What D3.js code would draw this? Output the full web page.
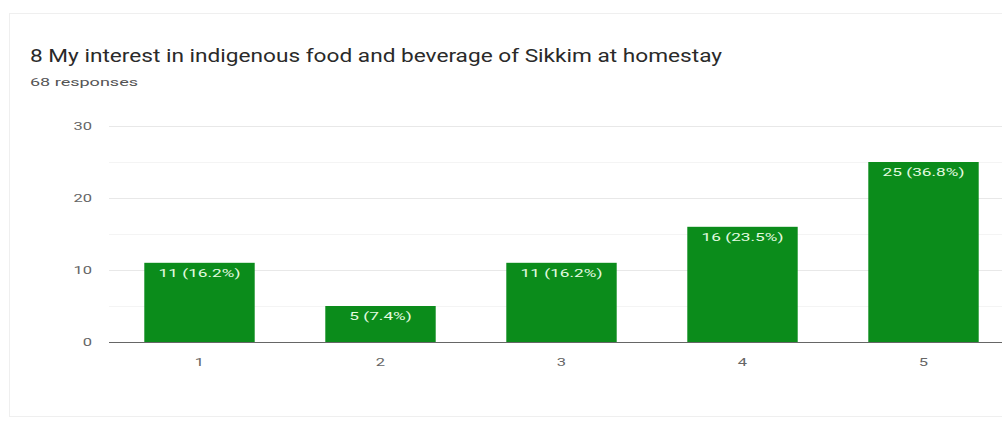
<!DOCTYPE html>
<html>
<head>
<meta charset="utf-8">
<script src="https://cdn.jsdelivr.net/npm/d3@7"></script>
<style>
  html, body { margin: 0; padding: 0; background: #fff; }
  svg { display: block; }
</style>
</head>
<body>
<svg id="chart" width="1002" height="423"></svg>
<script>
// Survey question 8: rating counts for scale 1..5
const titleText = "8 My interest in indigenous food and beverage of Sikkim at homestay";
const subtitleText = "68 responses";
const categories = ["1", "2", "3", "4", "5"];
const counts = [11, 5, 11, 16, 25];
const labels = ["11 (16.2%)", "5 (7.4%)", "11 (16.2%)", "16 (23.5%)", "25 (36.8%)"];
const yTicks = [0, 10, 20, 30];
const yGrid = [5, 15, 25];

const svg = d3.select("#chart");
const W = 1002, H = 423;
const FONT = "Roboto, Arial, sans-serif";
const WIDEN = 1.5;

// stretch text horizontally to the wide lettering of the form
function widen(sel, k) {
  sel.each(function () {
    const len = this.getComputedTextLength();
    d3.select(this)
      .attr("textLength", len * k)
      .attr("lengthAdjust", "spacingAndGlyphs");
  });
}

// card outline
svg.append("rect")
  .attr("x", 9.5).attr("y", 13.5)
  .attr("width", W + 10).attr("height", 403)
  .attr("fill", "#fff")
  .attr("stroke", "#efefef");

svg.append("text")
  .attr("x", 30).attr("y", 62)
  .attr("font-family", FONT)
  .attr("font-size", 18)
  .attr("fill", "#2a2a2a")
  .text(titleText)
  .call(s => s.attr("textLength", 692).attr("lengthAdjust", "spacingAndGlyphs"));

svg.append("text")
  .attr("x", 30).attr("y", 86)
  .attr("font-family", FONT)
  .attr("font-size", 11)
  .attr("fill", "#555")
  .text(subtitleText)
  .call(s => s.attr("textLength", 108).attr("lengthAdjust", "spacingAndGlyphs"));

const plotLeft = 109, plotTop = 126, plotBottom = 342;
const step = 181;

const x = d3.scaleBand()
  .domain(categories)
  .range([plotLeft, plotLeft + step * categories.length])
  .paddingInner(0.39)
  .paddingOuter(0.195);

const y = d3.scaleLinear()
  .domain([0, 30])
  .range([plotBottom, plotTop]);

const g = svg.append("g");

// minor gridlines
g.selectAll("line.minor")
  .data(yGrid)
  .join("line")
  .attr("class", "minor")
  .attr("x1", plotLeft).attr("x2", W)
  .attr("y1", d => Math.round(y(d)) + 0.5)
  .attr("y2", d => Math.round(y(d)) + 0.5)
  .attr("stroke", "#f4f4f4");

// major gridlines
g.selectAll("line.major")
  .data(yTicks.filter(d => d > 0))
  .join("line")
  .attr("class", "major")
  .attr("x1", plotLeft).attr("x2", W)
  .attr("y1", d => Math.round(y(d)) + 0.5)
  .attr("y2", d => Math.round(y(d)) + 0.5)
  .attr("stroke", "#e8e8e8");

// y axis labels
const yAxis = d3.axisLeft(y).tickValues(yTicks).tickSize(0).tickPadding(0);
const ya = svg.append("g")
  .attr("transform", `translate(${plotLeft - 17},0)`)
  .call(yAxis);
ya.select(".domain").remove();
ya.selectAll("text")
  .attr("font-family", FONT)
  .attr("font-size", 11)
  .attr("fill", "#666")
  .call(widen, WIDEN);

// bars
g.selectAll("rect.bar")
  .data(counts)
  .join("rect")
  .attr("class", "bar")
  .attr("x", (d, i) => x(categories[i]))
  .attr("y", d => y(d))
  .attr("width", x.bandwidth())
  .attr("height", d => y(0) - y(d))
  .attr("fill", "#0b8c1b");

// bar value labels
g.selectAll("text.val")
  .data(counts)
  .join("text")
  .attr("class", "val")
  .attr("x", (d, i) => x(categories[i]) + x.bandwidth() / 2)
  .attr("y", d => y(d) + 14)
  .attr("text-anchor", "middle")
  .attr("font-family", FONT)
  .attr("font-size", 11.5)
  .attr("fill", "#e4fbe0")
  .text((d, i) => labels[i])
  .call(widen, WIDEN);

// baseline
svg.append("line")
  .attr("x1", plotLeft).attr("x2", W)
  .attr("y1", plotBottom + 0.5).attr("y2", plotBottom + 0.5)
  .attr("stroke", "#666");

// x axis labels
const xAxis = d3.axisBottom(x).tickSize(0).tickPadding(0);
const xa = svg.append("g")
  .attr("transform", `translate(0,${plotBottom + 16})`)
  .call(xAxis);
xa.select(".domain").remove();
xa.selectAll("text")
  .attr("font-family", FONT)
  .attr("font-size", 11)
  .attr("fill", "#666")
  .call(widen, WIDEN);
</script>
</body>
</html>
